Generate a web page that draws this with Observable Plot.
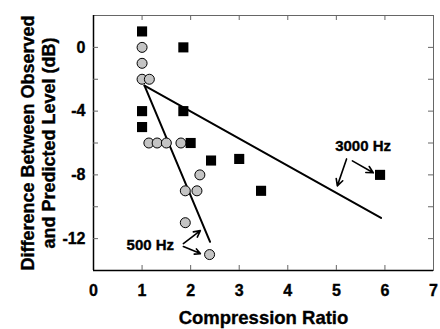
<!DOCTYPE html>
<html>
<head>
<meta charset="utf-8">
<script src="https://cdn.jsdelivr.net/npm/d3@7"></script>
<script src="https://cdn.jsdelivr.net/npm/@observablehq/plot@0.6"></script>
<style>
  html, body { margin: 0; padding: 0; background: #fff; }
  svg { font-family: "Liberation Sans", Arial, sans-serif; font-weight: bold; }
  svg text { stroke: #000; stroke-width: 0.35px; paint-order: stroke; }
</style>
</head>
<body>
<div id="chart"></div>
<script>
// 3000 Hz (squares)
const hz3000X = [1, 1, 1, 1.85, 1.85, 2.0, 2.42, 3.0, 3.45, 5.9];
const hz3000Y = [1, -4, -5, 0, -4, -6, -7.1, -7, -9, -8];
// 500 Hz (circles)
const hz500X = [1, 1, 1, 1.15, 1.14, 1.31, 1.5, 1.8, 1.89, 2.13, 2.19, 1.89, 2.39];
const hz500Y = [0, -1, -2, -2, -6, -6, -6, -6, -9, -9, -8, -11, -13];
// fitted lines
const fit500X = [1.05, 2.4];
const fit500Y = [-2.4, -12.2];
const fit3000X = [1.05, 5.92];
const fit3000Y = [-2.4, -10.7];
// axes
const xDomain = [0, 7];
const yDomain = [-14, 2];
const xTickLabels = [0, 1, 2, 3, 4, 5, 6, 7];
const xTickMarks = [1, 2, 3, 4, 5, 6];
const yTickLabels = [0, -4, -8, -12];
const yTickMarks = [-12, -10, -8, -6, -4, -2, 0];
// annotations
const labelText = ["3000 Hz", "500 Hz"];
const labelX = [5.55, 1.17];
const labelY = [-6.2, -12.44];
const arrowX1 = [5.21, 5.33, 1.85, 1.85];
const arrowY1 = [-7.0, -7.12, -12.31, -12.5];
const arrowX2 = [5.02, 5.76, 2.2, 2.2];
const arrowY2 = [-8.69, -7.87, -11.5, -12.94];

const squares = hz3000X.map((x, i) => ({x, y: hz3000Y[i]}));
const circles = hz500X.map((x, i) => ({x, y: hz500Y[i]}));
const fit500 = fit500X.map((x, i) => ({x, y: fit500Y[i]}));
const fit3000 = fit3000X.map((x, i) => ({x, y: fit3000Y[i]}));
const labels = labelText.map((t, i) => ({t, x: labelX[i], y: labelY[i]}));
const arrows = arrowX1.map((x1, i) => ({x1, y1: arrowY1[i], x2: arrowX2[i], y2: arrowY2[i]}));

const W = 440, H = 329, mL = 93, mR = 7, mT = 15, mB = 59;
const innerW = W - mL - mR, innerH = H - mT - mB;
const tick = 5;

const chart = Plot.plot({
  width: W,
  height: H,
  marginLeft: mL,
  marginRight: mR,
  marginTop: mT,
  marginBottom: mB,
  style: {fontFamily: '"Liberation Sans", Arial, sans-serif', fontWeight: "bold", color: "#000", background: "#fff"},
  x: {domain: xDomain},
  y: {domain: yDomain},
  marks: [
    Plot.frame({stroke: "#666", strokeWidth: 1}),
    Plot.ruleX([xDomain[0]], {stroke: "#000", strokeWidth: 1.5}),
    Plot.ruleY([yDomain[0]], {stroke: "#000", strokeWidth: 1.5}),
    // inward ticks
    Plot.ruleX(xTickMarks, {insetTop: innerH - tick, stroke: "#666"}),
    Plot.ruleX(xTickMarks, {insetBottom: innerH - tick, stroke: "#666"}),
    Plot.ruleY(yTickMarks, {insetRight: innerW - tick, stroke: "#666"}),
    Plot.ruleY(yTickMarks, {insetLeft: innerW - tick, stroke: "#666"}),
    Plot.axisX({ticks: xTickLabels, tickSize: 0, tickPadding: 14, fontSize: 16, fontWeight: "bold", label: null, tickFormat: d3.format("d")}),
    Plot.axisY({ticks: yTickLabels, tickSize: 0, tickPadding: 8, fontSize: 16, fontWeight: "bold", label: null, tickFormat: d => d < 0 ? "-" + Math.abs(d) : String(d)}),
    // fitted lines
    Plot.line(fit500, {x: "x", y: "y", stroke: "#000", strokeWidth: 2}),
    Plot.line(fit3000, {x: "x", y: "y", stroke: "#000", strokeWidth: 2}),
    // data
    Plot.dot(squares, {x: "x", y: "y", symbol: "square", r: 5.7, fill: "#000", stroke: "none"}),
    Plot.dot(circles, {x: "x", y: "y", symbol: "circle", r: 5, fill: "#c4c4c4", stroke: "#000", strokeWidth: 1}),
    // annotations
    Plot.arrow(arrows, {x1: "x1", y1: "y1", x2: "x2", y2: "y2", stroke: "#000", strokeWidth: 1.6, headLength: 7, headAngle: 55}),
    Plot.text(labels, {x: "x", y: "y", text: "t", fontSize: 15, fontWeight: "bold", fill: "#000"}),
    // axis titles
    Plot.text(["Compression Ratio"], {frameAnchor: "bottom", dy: 53, text: d => d, fontSize: 18.5, fontWeight: "bold", fill: "#000", lineAnchor: "bottom"}),
    Plot.text(["Difference Between Observed"], {frameAnchor: "middle", dx: -(mL + innerW / 2) + 33, rotate: -90, text: d => d, fontSize: 18, fontWeight: "bold", fill: "#000", lineAnchor: "bottom"}),
    Plot.text(["and Predicted Level (dB)"], {frameAnchor: "middle", dx: -(mL + innerW / 2) + 54, rotate: -90, text: d => d, fontSize: 18, fontWeight: "bold", fill: "#000", lineAnchor: "bottom"})
  ]
});
document.getElementById("chart").appendChild(chart);
</script>
</body>
</html>
